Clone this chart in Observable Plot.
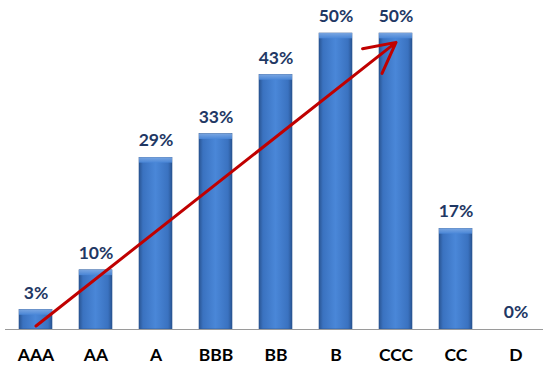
<!DOCTYPE html>
<html>
<head>
<meta charset="utf-8">
<script src="https://cdn.jsdelivr.net/npm/d3@7"></script>
<script src="https://cdn.jsdelivr.net/npm/@observablehq/plot@0.6"></script>
<style>
  html, body { margin: 0; padding: 0; background: #fff; }
  #chart { width: 543px; height: 367px; }
</style>
</head>
<body>
<div id="chart"></div>
<script>
const ratings = ["AAA", "AA", "A", "BBB", "BB", "B", "CCC", "CC", "D"];
const values = [3.3, 10, 29, 33, 43, 50, 50, 17, 0];
const labels = ["3%", "10%", "29%", "33%", "43%", "50%", "50%", "17%", "0%"];
const arrowStart = {rating: "AAA", value: 0.6};
const arrowEnd = {rating: "CCC", value: 48.5};

const data = ratings.map((r, i) => ({rating: r, value: values[i], label: labels[i]}));
const barData = data.filter(d => d.value > 0);

const plot = Plot.plot({
  width: 543,
  height: 367,
  marginLeft: 5,
  marginRight: 0,
  marginTop: 33,
  marginBottom: 38,
  style: {fontFamily: "Lato, 'Open Sans', sans-serif", background: "#fff"},
  x: {domain: ratings, range: [5, 545], paddingInner: 0.45, paddingOuter: 0.225},
  y: {domain: [0, 50], range: [329, 33]},
  marks: [
    Plot.barY(barData, {x: "rating", y: "value", fill: "url(#barGrad)", stroke: "#2B5590", strokeWidth: 0.6}),
    Plot.barY(barData, {x: "rating", y1: d => Math.max(0, d.value - 0.9), y2: "value", fill: "url(#topGrad)"}),
    Plot.ruleY([0], {stroke: "#9a9a9a", strokeWidth: 1.2}),
    Plot.text(data, {x: "rating", y: "value", text: "label", dy: -17, fill: "#1F3864", fontSize: 17.5, fontWeight: "bold"}),
    Plot.arrow([{x1: arrowStart.rating, y1: arrowStart.value, x2: arrowEnd.rating, y2: arrowEnd.value}], {
      x1: "x1", y1: "y1", x2: "x2", y2: "y2", stroke: "#C00000", strokeWidth: 3, headLength: 17, headAngle: 55
    }),
    Plot.axisX({tickSize: 0, tickPadding: 19, fontSize: 17.5, fontWeight: "bold", fill: "#000", label: null}),
    Plot.axisY({ticks: [], label: null})
  ]
});

const svg = d3.select(plot);
const defs = svg.insert("defs", ":first-child");
const g = defs.append("linearGradient").attr("id", "barGrad").attr("x1", "0").attr("x2", "1").attr("y1", "0").attr("y2", "0");
[[0, "#2A5593"], [0.12, "#3A72C0"], [0.5, "#4A87D8"], [0.88, "#3A72C0"], [1, "#2A5593"]].forEach(([o, c]) =>
  g.append("stop").attr("offset", o).attr("stop-color", c));
const t = defs.append("linearGradient").attr("id", "topGrad").attr("x1", "0").attr("x2", "0").attr("y1", "0").attr("y2", "1");
[[0, "#7FAAE4"], [1, "#4A87D8"]].forEach(([o, c]) =>
  t.append("stop").attr("offset", o).attr("stop-color", c).attr("stop-opacity", 0.9));

document.getElementById("chart").appendChild(plot);
</script>
</body>
</html>
